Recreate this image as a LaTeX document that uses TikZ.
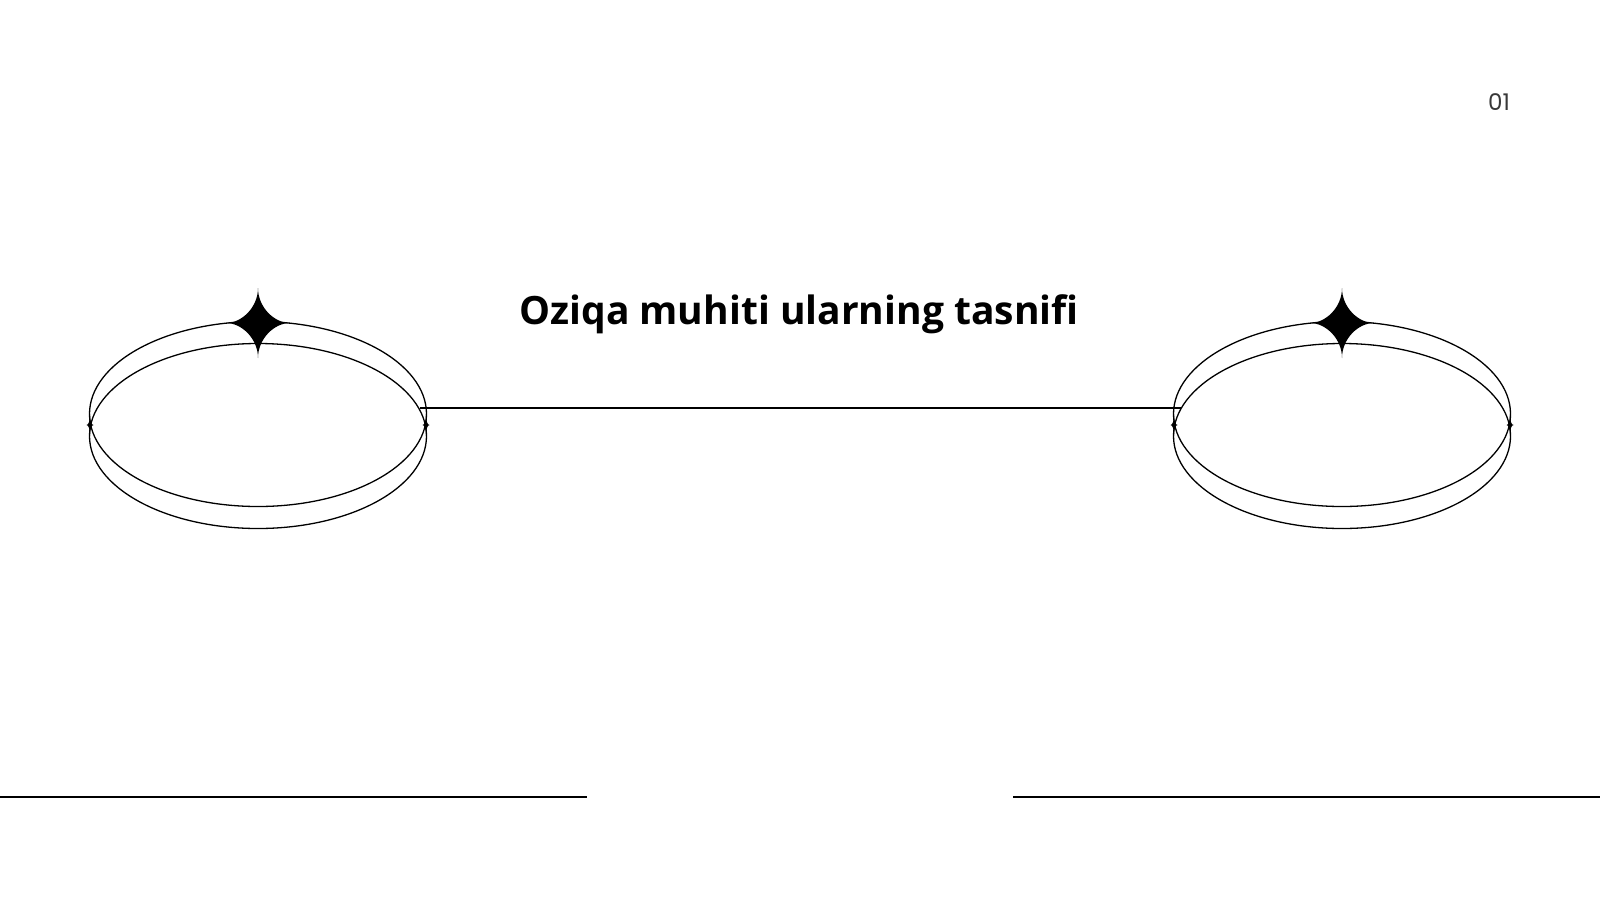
\documentclass[tikz,border=0pt]{standalone}
\usepackage{fontspec}
\setmainfont{Open Sans}
\newfontfamily\numfont{Poppins}
\usetikzlibrary{shapes.geometric}
\definecolor{numgray}{HTML}{383838}
\tikzset{
  ring/.style={draw=black, line width=1.3pt, ellipse, minimum width=337pt, minimum height=185pt, inner sep=0pt, outer sep=0pt},
  rule/.style={draw=black, line width=1.4pt},
  sparkle/.pic={
    \fill[black] (0,-35) .. controls (0,-16) and (16,0) .. (32,0)
                 .. controls (16,0) and (0,16) .. (0,35)
                 .. controls (0,16) and (-16,0) .. (-32,0)
                 .. controls (-16,0) and (0,-16) .. cycle;
  },
  cusp/.pic={
    \fill[black] (0,-11) .. controls (0,-4) and (1.5,0) .. (3.5,0)
                 .. controls (1.5,0) and (0,4) .. (0,11)
                 .. controls (0,4) and (-1.5,0) .. (-3.5,0)
                 .. controls (-1.5,0) and (0,-4) .. cycle;
  }
}
\begin{document}
\begin{tikzpicture}[x=1pt,y=-1pt]
\useasboundingbox (0,0) rectangle (1600,900);
% left dish
\node[ring] (L2) at (258,436) {};
\node[ring] (L1) at (258,414) {};
\pic at (258,323) {sparkle};
\pic at (90,425) {cusp};
\pic at (426,425) {cusp};
% right dish
\node[ring] (R2) at (1342,436) {};
\node[ring] (R1) at (1342,414) {};
\pic at (1342,323) {sparkle};
\pic at (1174,425) {cusp};
\pic at (1510,425) {cusp};
% connector
\coordinate (ca) at (420,408);
\coordinate (cb) at (1181,408);
\draw[rule] (ca) -- (cb);
% title
\node[font=\fontsize{39}{45}\selectfont\bfseries, inner sep=0pt] (title) at (799,314) {Oziqa muhiti ularning tasnifi};
% page number
\node[font=\numfont\fontsize{23}{27}\selectfont, text=numgray, inner sep=0pt] (num) at (1499,102) {01};
% bottom rules
\coordinate (bl1) at (0,797);
\coordinate (bl2) at (587,797);
\coordinate (br1) at (1013,797);
\coordinate (br2) at (1600,797);
\draw[rule] (bl1) -- (bl2);
\draw[rule] (br1) -- (br2);
\end{tikzpicture}
\end{document}
